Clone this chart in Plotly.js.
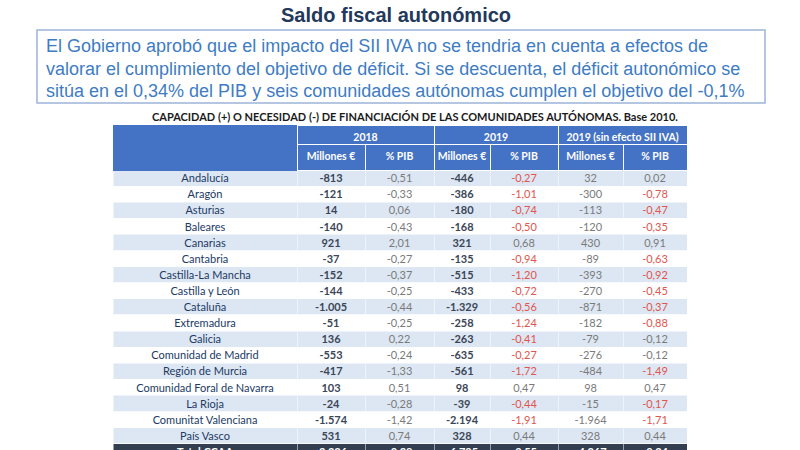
<!DOCTYPE html>
<html>
<head>
<meta charset="utf-8">
<script src="https://cdn.plot.ly/plotly-3.0.1.min.js"></script>
<style>
html,body{margin:0;padding:0;overflow:hidden;background:#fff;width:800px;height:450px;}
#chart{width:800px;height:470px;}
</style>
</head>
<body>
<div id="chart"></div>
<script>
const regiones = ["Andalucía","Aragón","Asturias","Baleares","Canarias","Cantabria","Castilla-La Mancha","Castilla y León","Cataluña","Extremadura","Galicia","Comunidad de Madrid","Región de Murcia","Comunidad Foral de Navarra","La Rioja","Comunitat Valenciana","País Vasco","Total CCAA"];
const millones2018 = [-813,-121,14,-140,921,-37,-152,-144,-1005,-51,136,-553,-417,103,-24,-1574,531,-3326];
const pib2018 = [-0.51,-0.33,0.06,-0.43,2.01,-0.27,-0.37,-0.25,-0.44,-0.25,0.22,-0.24,-1.33,0.51,-0.28,-1.42,0.74,-0.28];
const millones2019 = [-446,-386,-180,-168,321,-135,-515,-433,-1329,-258,-263,-635,-561,98,-39,-2194,328,-6795];
const pib2019 = [-0.27,-1.01,-0.74,-0.50,0.68,-0.94,-1.20,-0.72,-0.56,-1.24,-0.41,-0.27,-1.72,0.47,-0.44,-1.91,0.44,-0.55];
const millonesSinIVA = [32,-300,-113,-120,430,-89,-393,-270,-871,-182,-79,-276,-484,98,-15,-1964,328,-4267];
const pibSinIVA = [0.02,-0.78,-0.47,-0.35,0.91,-0.63,-0.92,-0.45,-0.37,-0.88,-0.12,-0.12,-1.49,0.47,-0.17,-1.71,0.44,-0.34];
const cumpleObjetivo = [true,false,false,false,true,false,false,false,false,false,true,true,false,true,false,false,true,false];
const grupos = ["", "2018", "2019", "2019 (sin efecto SII IVA)"];
const subcabecera = ["", "Millones €", "% PIB", "Millones €", "% PIB", "Millones €", "% PIB"];

const W = 800, H = 470;
const px = v => v / W;
const py = v => 1 - v / H;
const nb = s => s.replace(/ /g, "\u00a0");

function fmtInt(v){
  const s = Math.abs(v).toString().replace(/\B(?=(\d{3})+(?!\d))/g, ".");
  return (v < 0 ? "-" : "") + s;
}
function fmtDec(v){ return v.toFixed(2).replace(".", ","); }

const last = regiones.length - 1;

const colName = regiones.map(nb);
const colM18 = millones2018.map(fmtInt);
const colP18 = pib2018.map(fmtDec);
const colM19 = millones2019.map(fmtInt);
const colP19 = pib2019.map(fmtDec);
const colMS = millonesSinIVA.map(fmtInt);
const colPS = pibSinIVA.map(fmtDec);

const LIGHT = "#dde7f3", WHITE = "#ffffff", DARK = "#333f50", BLUE = "#4472c4";
const RED = "#e0554e", GRAY = "#7a7a7a", NAVY = "#213a63", NUM = "#3b4658";
const rowFill = regiones.map((r,i)=> i===last ? DARK : (i%2===0 ? LIGHT : WHITE));
const fills = [0,1,2,3,4,5,6].map(()=> rowFill.slice());

const fc = (base) => regiones.map((r,i)=> i===last ? "#ffffff" : base);
const fontColors = [
  fc(NAVY), fc(NUM), fc(GRAY), fc(NUM),
  pib2019.map((v,i)=> i===last ? "#ffffff" : (v < 0 ? RED : GRAY)),
  fc(GRAY),
  pibSinIVA.map((v,i)=> i===last ? "#ffffff" : (cumpleObjetivo[i] ? GRAY : RED))
];
const fw = (base) => regiones.map((r,i)=> i===last ? "bold" : base);
const fontWeights = [fw("normal"), fw("bold"), fw("normal"), fw("bold"), fw("normal"), fw("normal"), fw("normal")];

const widths = [184,68,69,56,68,65,64];
const groupWidths = [184, 68+69, 56+68, 65+64];
const FONT = "Lato, 'Open Sans', sans-serif";

const tablaDatos = {
  type: "table",
  domain: {x:[px(113), px(687)], y:[0, py(144)]},
  columnwidth: widths,
  header: {
    values: subcabecera.map(nb),
    height: 26,
    align: "center",
    fill: {color: BLUE},
    line: {color: [BLUE, WHITE, WHITE, WHITE, WHITE, WHITE, WHITE], width: 1},
    font: {family: FONT, size: 10.5, color: "#ffffff", weight: "bold"}
  },
  cells: {
    values: [colName, colM18, colP18, colM19, colP19, colMS, colPS],
    height: 16.1,
    align: "center",
    fill: {color: fills},
    line: {color: WHITE, width: 0.5},
    font: {family: FONT, size: 11, color: fontColors, weight: fontWeights}
  }
};

const tablaGrupos = {
  type: "table",
  domain: {x:[px(113), px(687)], y:[py(144), py(125)]},
  columnwidth: groupWidths,
  header: {
    values: grupos.map(nb),
    height: 19,
    align: "center",
    fill: {color: BLUE},
    line: {color: [BLUE, WHITE, WHITE, WHITE], width: 1},
    font: {family: FONT, size: 10.5, color: "#ffffff", weight: "bold"}
  },
  cells: {
    values: [[""],[""],[""],[""]],
    height: 20,
    fill: {color: BLUE},
    line: {color: BLUE, width: 1}
  }
};

const TXT = "'Liberation Sans', Arial, sans-serif";
const layout = {
  width: W, height: H,
  margin: {l:0, r:0, t:0, b:0},
  paper_bgcolor: "#ffffff",
  showlegend: false,
  shapes: [
    {type:"rect", xref:"paper", yref:"paper", x0:px(37), x1:px(765), y0:py(103), y1:py(30),
     line:{color:"#9cb4d8", width:1.5}, fillcolor:"rgba(0,0,0,0)"}
  ],
  annotations: [
    {xref:"paper", yref:"paper", x:px(396), y:py(15), xanchor:"center", yanchor:"middle", showarrow:false,
     text:"<b>Saldo fiscal autonómico</b>", font:{family:TXT, size:20, color:"#22395c"}},
    {xref:"paper", yref:"paper", x:px(44), y:py(46), xanchor:"left", yanchor:"middle", showarrow:false,
     text:"El Gobierno aprobó que el impacto del SII IVA no se tendria en cuenta a efectos de",
     font:{family:TXT, size:18, color:"#3e7cc4"}},
    {xref:"paper", yref:"paper", x:px(44), y:py(69), xanchor:"left", yanchor:"middle", showarrow:false,
     text:"valorar el cumplimiento del objetivo de déficit. Si se descuenta, el déficit autonómico se",
     font:{family:TXT, size:18, color:"#3e7cc4"}},
    {xref:"paper", yref:"paper", x:px(44), y:py(91), xanchor:"left", yanchor:"middle", showarrow:false,
     text:"sitúa en el 0,34% del PIB y seis comunidades autónomas cumplen el objetivo del -0,1%",
     font:{family:TXT, size:18, color:"#3e7cc4"}},
    {xref:"paper", yref:"paper", x:px(415), y:py(116), xanchor:"center", yanchor:"middle", showarrow:false,
     text:"<b>CAPACIDAD (+) O NECESIDAD (-) DE FINANCIACIÓN DE LAS COMUNIDADES AUTÓNOMAS. Base 2010.</b>",
     font:{family:FONT, size:11, color:"#1a1a1a"}}
  ]
};

Plotly.newPlot("chart", [tablaDatos, tablaGrupos], layout, {displayModeBar:false, staticPlot:true})
  .then(() => {
    // centre the body-cell text vertically inside the 16px rows
    document.querySelectorAll("#chart .column-block").forEach(b => {
      const d = b.__data__;
      if (d && d.type === "cells") {
        b.querySelectorAll(".cell-text").forEach(t => {
          const tr = t.getAttribute("transform") || "";
          t.setAttribute("transform", (tr + " translate(0,-4)").trim());
        });
      }
    });
  });
</script>
</body>
</html>
